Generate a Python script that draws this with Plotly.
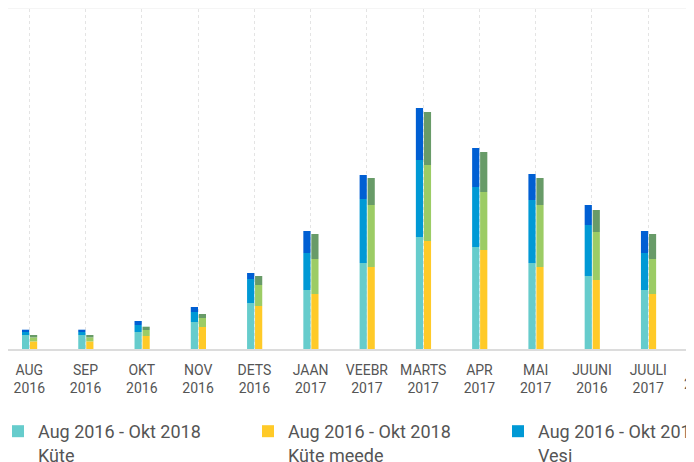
import numpy as np
import plotly.graph_objects as go

# ---- data ----
months = ["AUG", "SEP", "OKT", "NOV", "DETS", "JAAN", "VEEBR", "MARTS", "APR", "MAI", "JUUNI", "JUULI"]
years = ["2016", "2016", "2016", "2016", "2016", "2017", "2017", "2017", "2017", "2017", "2016", "2017"]
next_month = "AUG"
next_year = "2017"

period = "Aug 2016 - Okt 2018"

kute = [14, 14, 17, 27, 46, 59, 86, 112, 102, 86, 73, 59]
vesi = [3, 3, 7, 10, 24, 37, 64, 77, 60, 63, 51, 37]
elekter = [2.3, 2.3, 4, 5, 6, 22, 24, 52, 39, 26, 20, 22]

kute_meede = [7.6, 7.6, 13, 22, 43, 55, 82, 108, 99, 82, 69, 55]
vesi_meede = [4, 4, 6, 9, 21, 35, 62, 76, 58, 62, 48, 35]
elekter_meede = [2.4, 2.4, 3.3, 4, 9, 25, 27, 53, 40, 27, 22, 25]

colors_left = ["#66CCCC", "#0099D5", "#005FD3"]
colors_right = ["#FFCA28", "#9CCC65", "#689B68"]

x = np.arange(len(months))
ticktext = [f"{m}<br>{y}" for m, y in zip(months, years)]

W, H = 686, 454          # page adds an 8px body margin
xmin, xmax = -0.3785, 11.813
bar_w = 0.128

left = [kute, vesi, elekter]
right = [kute_meede, vesi_meede, elekter_meede]
left_names = [f"{period}<br>Küte", f"{period}<br>Vesi", f"{period}<br>Elekter"]
right_names = [f"{period}<br>Küte meede", f"{period}<br>Vesi meede", f"{period}<br>Elekter meede"]

bases = {"L": [], "R": []}
acc = np.zeros(len(months))
for s in left:
    bases["L"].append(acc.copy()); acc = acc + np.array(s, float)
acc = np.zeros(len(months))
for s in right:
    bases["R"].append(acc.copy()); acc = acc + np.array(s, float)

fig = go.Figure()
order = [("L", 0), ("R", 0), ("L", 1), ("R", 1), ("L", 2), ("R", 2)]
for i, (side, k) in enumerate(order):
    vals = left[k] if side == "L" else right[k]
    name = left_names[k] if side == "L" else right_names[k]
    col = colors_left[k] if side == "L" else colors_right[k]
    off = -0.13 if side == "L" else 0.012
    fig.add_trace(go.Bar(
        x=x, y=vals, base=bases[side][k], name=name,
        marker=dict(color=col, line=dict(width=0)),
        width=bar_w, offset=off,
        legend="legend" if i < 2 else "legend2"))

tick_font = dict(family="Roboto", size=14, color="#555555")
leg_font = dict(family="Roboto", size=18, color="#555555")

nx_paper = (len(months) - xmin) / (xmax - xmin)
leg_y = (341 - 405) / 340

fig.update_layout(
    width=W, height=H,
    barmode="overlay",
    paper_bgcolor="white", plot_bgcolor="white",
    margin=dict(l=0, r=0, t=1, b=113, autoexpand=False),
    xaxis=dict(range=[xmin, xmax], tickmode="array", tickvals=x, ticktext=ticktext,
               showgrid=True, gridcolor="#e4e4e4", gridwidth=1, griddash="3px,3px",
               showline=True, linecolor="#dcdcdc", linewidth=2, ticks="",
               ticklabelstandoff=7, tickfont=tick_font, zeroline=False, fixedrange=True),
    yaxis=dict(range=[0, 340], visible=False, fixedrange=True),
    legend=dict(orientation="h", x=-10 / W, xanchor="left", y=leg_y, yanchor="top",
                valign="top", font=leg_font, entrywidth=205,
                bgcolor="rgba(0,0,0,0)", traceorder="normal"),
    legend2=dict(orientation="h", x=490 / W, xanchor="left", y=leg_y, yanchor="top",
                 valign="top", font=leg_font,
                 bgcolor="rgba(0,0,0,0)", traceorder="normal"),
    shapes=[dict(type="rect", xref="paper", yref="paper", x0=0, x1=1, y0=1, y1=1 + 10 / 340,
                 fillcolor="#f5f5f5", line=dict(width=0), layer="above")],
    annotations=[dict(xref="paper", yref="paper", x=nx_paper, y=0, xanchor="right", yanchor="top",
                      align="center", text=f"{next_month}<br>{next_year}", showarrow=False,
                      font=tick_font, yshift=-7, xshift=13)],
)

fig.write_html("out.html")
